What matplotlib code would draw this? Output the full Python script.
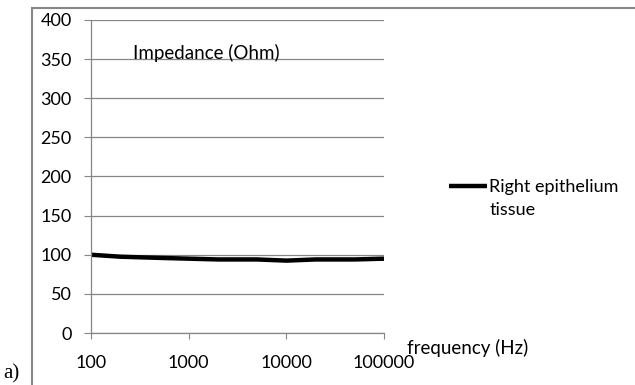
import numpy as np
import matplotlib.pyplot as plt
from matplotlib.patches import Rectangle

# impedance readings (Ohm) vs frequency (Hz)
freq = [100, 200, 500, 1000, 2000, 5000, 10000, 20000, 50000, 100000]
impedance = [100, 97.5, 96, 95, 94, 94, 92.5, 94, 94, 95]

yticks = [0, 50, 100, 150, 200, 250, 300, 350, 400]
xticks = [100, 1000, 10000, 100000]

plt.rcParams['font.family'] = ['Lato', 'DejaVu Sans']

fig = plt.figure(figsize=(6.35, 3.85), dpi=100)
W, H = 635, 385

# outer chart border (left/top visible only)
fig.patches.append(Rectangle((32 / W, -0.1), 1.2, (H - 8) / H + 0.1,
                             transform=fig.transFigure, fill=False,
                             edgecolor='#868686', linewidth=1.5))

ax = fig.add_axes([91 / W, 1 - 333 / H, (384 - 91) / W, (333 - 20) / H])

ax.plot(freq, impedance, color='black', linewidth=3.2,
        label='Right epithelium', solid_capstyle='butt')

ax.set_xscale('log')
ax.set_xlim(100, 100000)
ax.set_ylim(0, 400)
ax.set_yticks(yticks)
ax.set_xticks(xticks)
ax.set_xticklabels([str(t) for t in xticks])
ax.minorticks_off()
ax.yaxis.grid(True, color='#868686', linewidth=0.9)
ax.set_axisbelow(True)

for side in ['top', 'right']:
    ax.spines[side].set_visible(False)
for side in ['left', 'bottom']:
    ax.spines[side].set_color('#868686')
    ax.spines[side].set_linewidth(0.9)

ax.tick_params(axis='y', length=5, color='#868686', labelsize=13, pad=9)
ax.tick_params(axis='x', length=4.5, color='#868686', labelsize=13, pad=11,
               direction='out')

ax.text(133 / W, 1 - 53 / H, 'Impedance (Ohm)', transform=fig.transFigure,
        fontsize=13.5, va='center', ha='left')
fig.text(407 / W, 1 - 348 / H, 'frequency (Hz)', fontsize=13.5,
         va='center', ha='left')

# legend: handle sits on the first line, second line wraps below
leg = ax.legend(loc='center left', bbox_to_anchor=(449 / W, 1 - 187 / H),
                bbox_transform=fig.transFigure, frameon=False, fontsize=13,
                handlelength=2.1, handletextpad=0.1, borderaxespad=0,
                borderpad=0)
fig.text(490 / W, 1 - 210 / H, 'tissue', fontsize=13, va='center', ha='left')

fig.text(3 / W, 1 - 374 / H, 'a)', family='Liberation Serif', fontsize=15,
         va='center', ha='left')

fig.savefig('out.png', dpi=100)
